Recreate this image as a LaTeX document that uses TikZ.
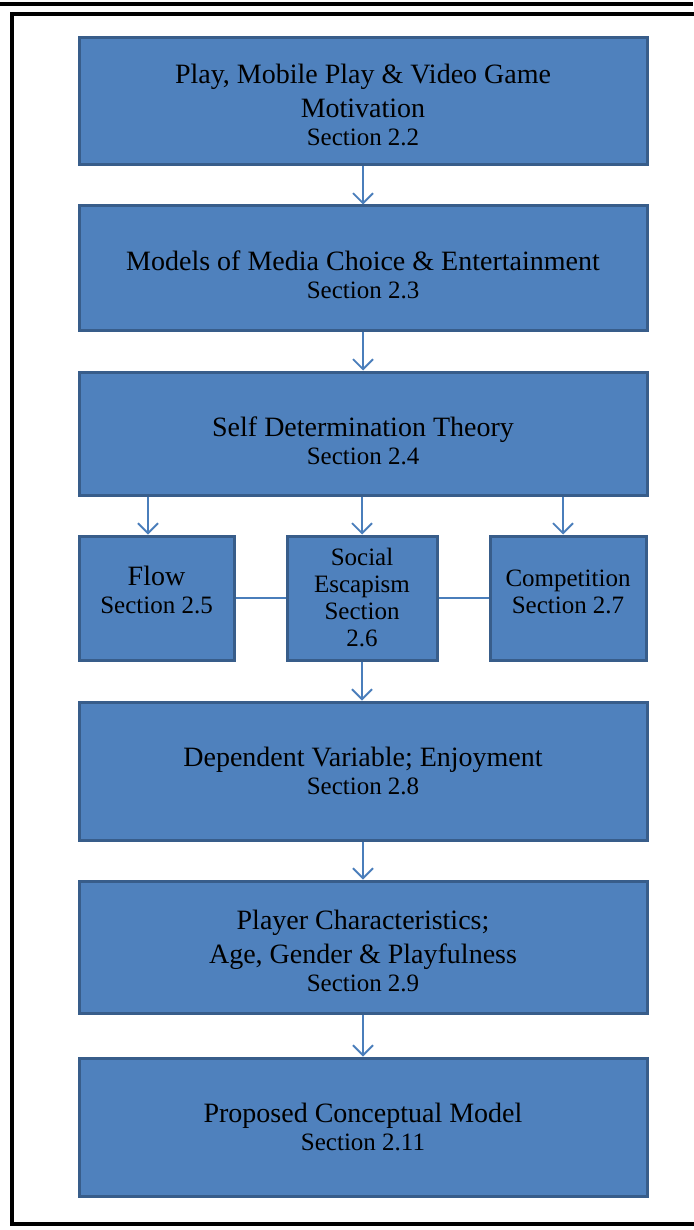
\documentclass[tikz,border=0pt]{standalone}
\usepackage{fontspec}
\setmainfont{Liberation Serif}
\newfontfamily\boxfont{Liberation Serif}
\usetikzlibrary{arrows.meta}
\definecolor{boxfill}{HTML}{4F81BD}
\definecolor{boxedge}{HTML}{385D8A}
\definecolor{linkblue}{HTML}{4A7EBB}
\newcommand\titlesize{\boxfont\fontsize{28}{34}\selectfont}
\newcommand\secsize{\boxfont\fontsize{25}{28}\selectfont}
\newcommand\smallsize{\boxfont\fontsize{25}{27}\selectfont}

\begin{document}
\begin{tikzpicture}[x=1pt,y=-1pt,
  box/.style={draw=boxedge, fill=boxfill, line width=3pt, inner sep=0pt},
  widebox/.style={box, minimum width=568pt, minimum height=127pt},
  sidebox/.style={box, minimum height=124pt},
  boxtext/.style={inner sep=0pt, align=center, text=black, font=\titlesize},
  link/.style={draw=linkblue, line width=1.8pt},
  arr/.style={link, -{Straight Barb[length=10pt,width=20pt,line width=1.8pt]}}]
\useasboundingbox (0,0) rectangle (693,1230);
\fill[white] (0,0) rectangle (693,1230);

% page rules and frame
\draw[line width=4pt] (0,4.5) -- (693,4.5);
\draw[line width=4pt] (710,14) -- (12,14) -- (12,1224) -- (710,1224);

% main column boxes
\node[widebox] (motiv) at (363,101.5) {};
\node[widebox, minimum height=124pt] (media) at (363,268) {};
\node[widebox, minimum height=123pt] (sdt) at (363,433.5) {};
\node[sidebox, minimum width=155pt] (flow) at (156.5,598) {};
\node[sidebox, minimum width=150pt] (social) at (362,598) {};
\node[sidebox, minimum width=156pt] (comp) at (568,598) {};
\node[widebox, minimum height=138pt] (enjoy) at (363,771) {};
\node[widebox, minimum height=132pt] (player) at (363,947) {};
\node[widebox, minimum height=138pt] (model) at (363,1127) {};

% box texts
\node[boxtext] (motivtext) at ([yshift=-3pt]motiv)
  {Play, Mobile Play \& Video Game\\Motivation\\[-6pt]{\secsize Section 2.2}};
\node[boxtext] (mediatext) at ([yshift=-7pt]media)
  {Models of Media Choice \& Entertainment\\[-6pt]{\secsize Section 2.3}};
\node[boxtext] (sdttext) at ([yshift=-7pt]sdt)
  {Self Determination Theory\\[-6pt]{\secsize Section 2.4}};
\node[boxtext] (flowtext) at ([yshift=8pt]flow)
  {Flow\\[-6pt]{\secsize Section 2.5}};
\node[boxtext, font=\smallsize] (socialtext) at ([yshift=1pt]social)
  {Social\\Escapism\\Section\\2.6};
\node[boxtext, font=\smallsize] (comptext) at ([yshift=6pt]comp)
  {Competition\\Section 2.7};
\node[boxtext] (enjoytext) at (enjoy)
  {Dependent Variable; Enjoyment\\[-6pt]{\secsize Section 2.8}};
\node[boxtext] (playertext) at ([yshift=-4pt]player)
  {Player Characteristics;\\Age, Gender \& Playfulness\\[-6pt]{\secsize Section 2.9}};
\node[boxtext] (modeltext) at (model)
  {Proposed Conceptual Model\\[-6pt]{\secsize Section 2.11}};

% connectors
\draw[arr] (motiv.south) -- (media.north);
\draw[arr] (media.south) -- (sdt.north);
\draw[arr] ([xshift=-8.5pt]flow.north |- sdt.south) -- ([xshift=-8.5pt]flow.north);
\draw[arr] (social.north |- sdt.south) -- (social.north);
\draw[arr] ([xshift=-5pt]comp.north |- sdt.south) -- ([xshift=-5pt]comp.north);
\draw[link] (flow.east) -- (social.west);
\draw[link] (social.east) -- (comp.west);
\draw[arr] (social.south) -- (social.south |- enjoy.north);
\draw[arr] (enjoy.south) -- (player.north);
\draw[arr] (player.south) -- (model.north);
\end{tikzpicture}
\end{document}
